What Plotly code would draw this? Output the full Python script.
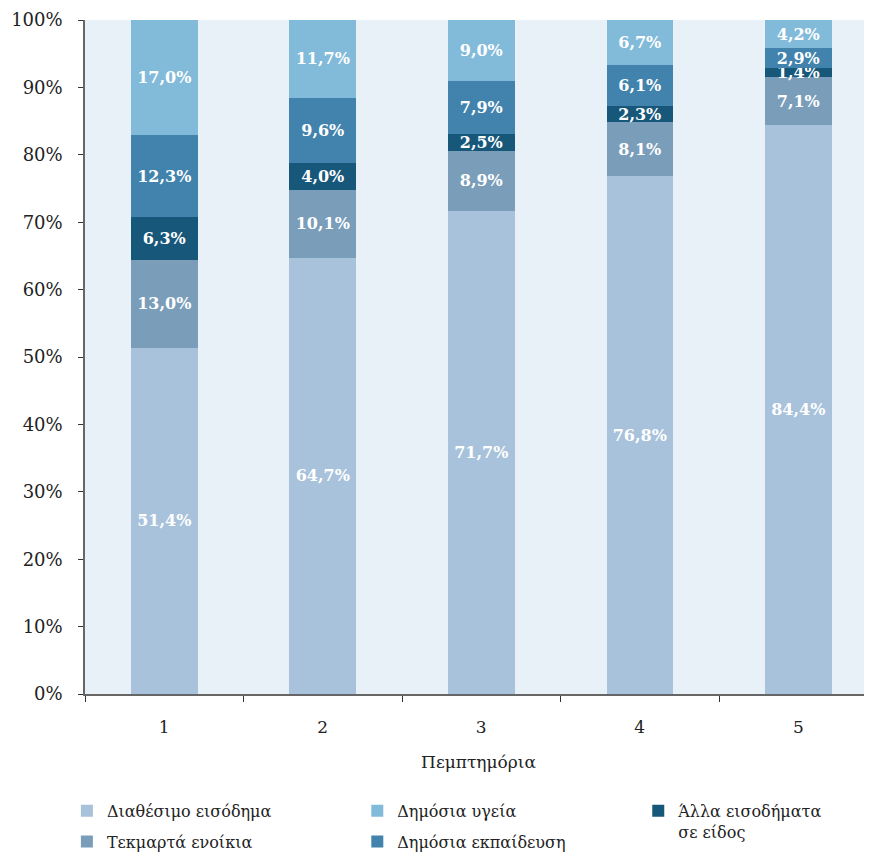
import plotly.graph_objects as go

quintiles = ['1', '2', '3', '4', '5']

disposable_income = [51.4, 64.7, 71.7, 76.8, 84.4]
imputed_rents = [13.0, 10.1, 8.9, 8.1, 7.1]
other_in_kind = [6.3, 4.0, 2.5, 2.3, 1.4]
public_education = [12.3, 9.6, 7.9, 6.1, 2.9]
public_health = [17.0, 11.7, 9.0, 6.7, 4.2]

y_ticks = [0, 10, 20, 30, 40, 50, 60, 70, 80, 90, 100]

# stacked bottom -> top; third field says which legend column the item goes in
series = [
    ('Διαθέσιμο εισόδημα', disposable_income, '#a7c2da', 'legend'),
    ('Τεκμαρτά ενοίκια', imputed_rents, '#7a9dba', 'legend'),
    ('Άλλα εισοδήματα<br>σε είδος', other_in_kind, '#17577a', 'legend3'),
    ('Δημόσια εκπαίδευση', public_education, '#4183ad', 'legend2'),
    ('Δημόσια υγεία', public_health, '#82bada', 'legend2'),
]
legend_rank = {'Δημόσια υγεία': 1, 'Δημόσια εκπαίδευση': 2}

FONT = 'DejaVu Serif'


def pct_label(v):
    return f'{v:.1f}%'.replace('.', ',')


fig = go.Figure()
for i, (name, vals, color, leg) in enumerate(series):
    fig.add_trace(go.Bar(
        x=quintiles, y=vals, name=name,
        marker=dict(color=color, line=dict(width=0)),
        width=0.42,
        text=[pct_label(v) for v in vals],
        textposition='inside', insidetextanchor='middle', textangle=0,
        textfont=dict(family=FONT, size=16, color='white', weight='bold'),
        legend=leg, legendgroup=f'g{i}',
        legendrank=legend_rank.get(name, i),
    ))


def column_legend(x):
    return dict(
        orientation='v', x=x, y=-0.148, xanchor='left', yanchor='top',
        font=dict(family=FONT, size=16, color='#222222'),
        traceorder='grouped', tracegroupgap=7, valign='top',
        itemsizing='constant', bgcolor='rgba(0,0,0,0)',
    )


# page has an 8px body margin, so the figure is 8px smaller than the window
fig.update_layout(
    barmode='stack',
    width=864, height=845,
    margin=dict(l=77, r=0, t=12, b=159, autoexpand=False),
    paper_bgcolor='white',
    plot_bgcolor='#e9f1f8',
    font=dict(family=FONT, size=17, color='#222222'),
    uniformtext=dict(minsize=16, mode='show'),
    showlegend=True,
    legend=column_legend(-0.023),
    legend2=column_legend(0.346),
    legend3=column_legend(0.703),
)

fig.update_xaxes(
    type='category', range=[-0.5, 4.465], automargin=False,
    tickson='boundaries', ticks='outside', ticklen=6, tickcolor='#333333',
    showline=True, linecolor='#666666', linewidth=1.5,
    showgrid=False, ticklabelstandoff=17,
    tickfont=dict(family=FONT, size=17),
    title=dict(text='Πεμπτημόρια', font=dict(family=FONT, size=17), standoff=20),
)

fig.update_yaxes(
    range=[0, 100], tickvals=y_ticks,
    ticktext=[f'{t}%' for t in y_ticks], automargin=False,
    ticks='outside', ticklen=5, tickcolor='#333333',
    showline=True, linecolor='#666666', linewidth=1.5,
    showgrid=False, zeroline=False, ticklabelstandoff=12,
    tickfont=dict(family=FONT, size=18),
)

fig.write_html('out.html')
